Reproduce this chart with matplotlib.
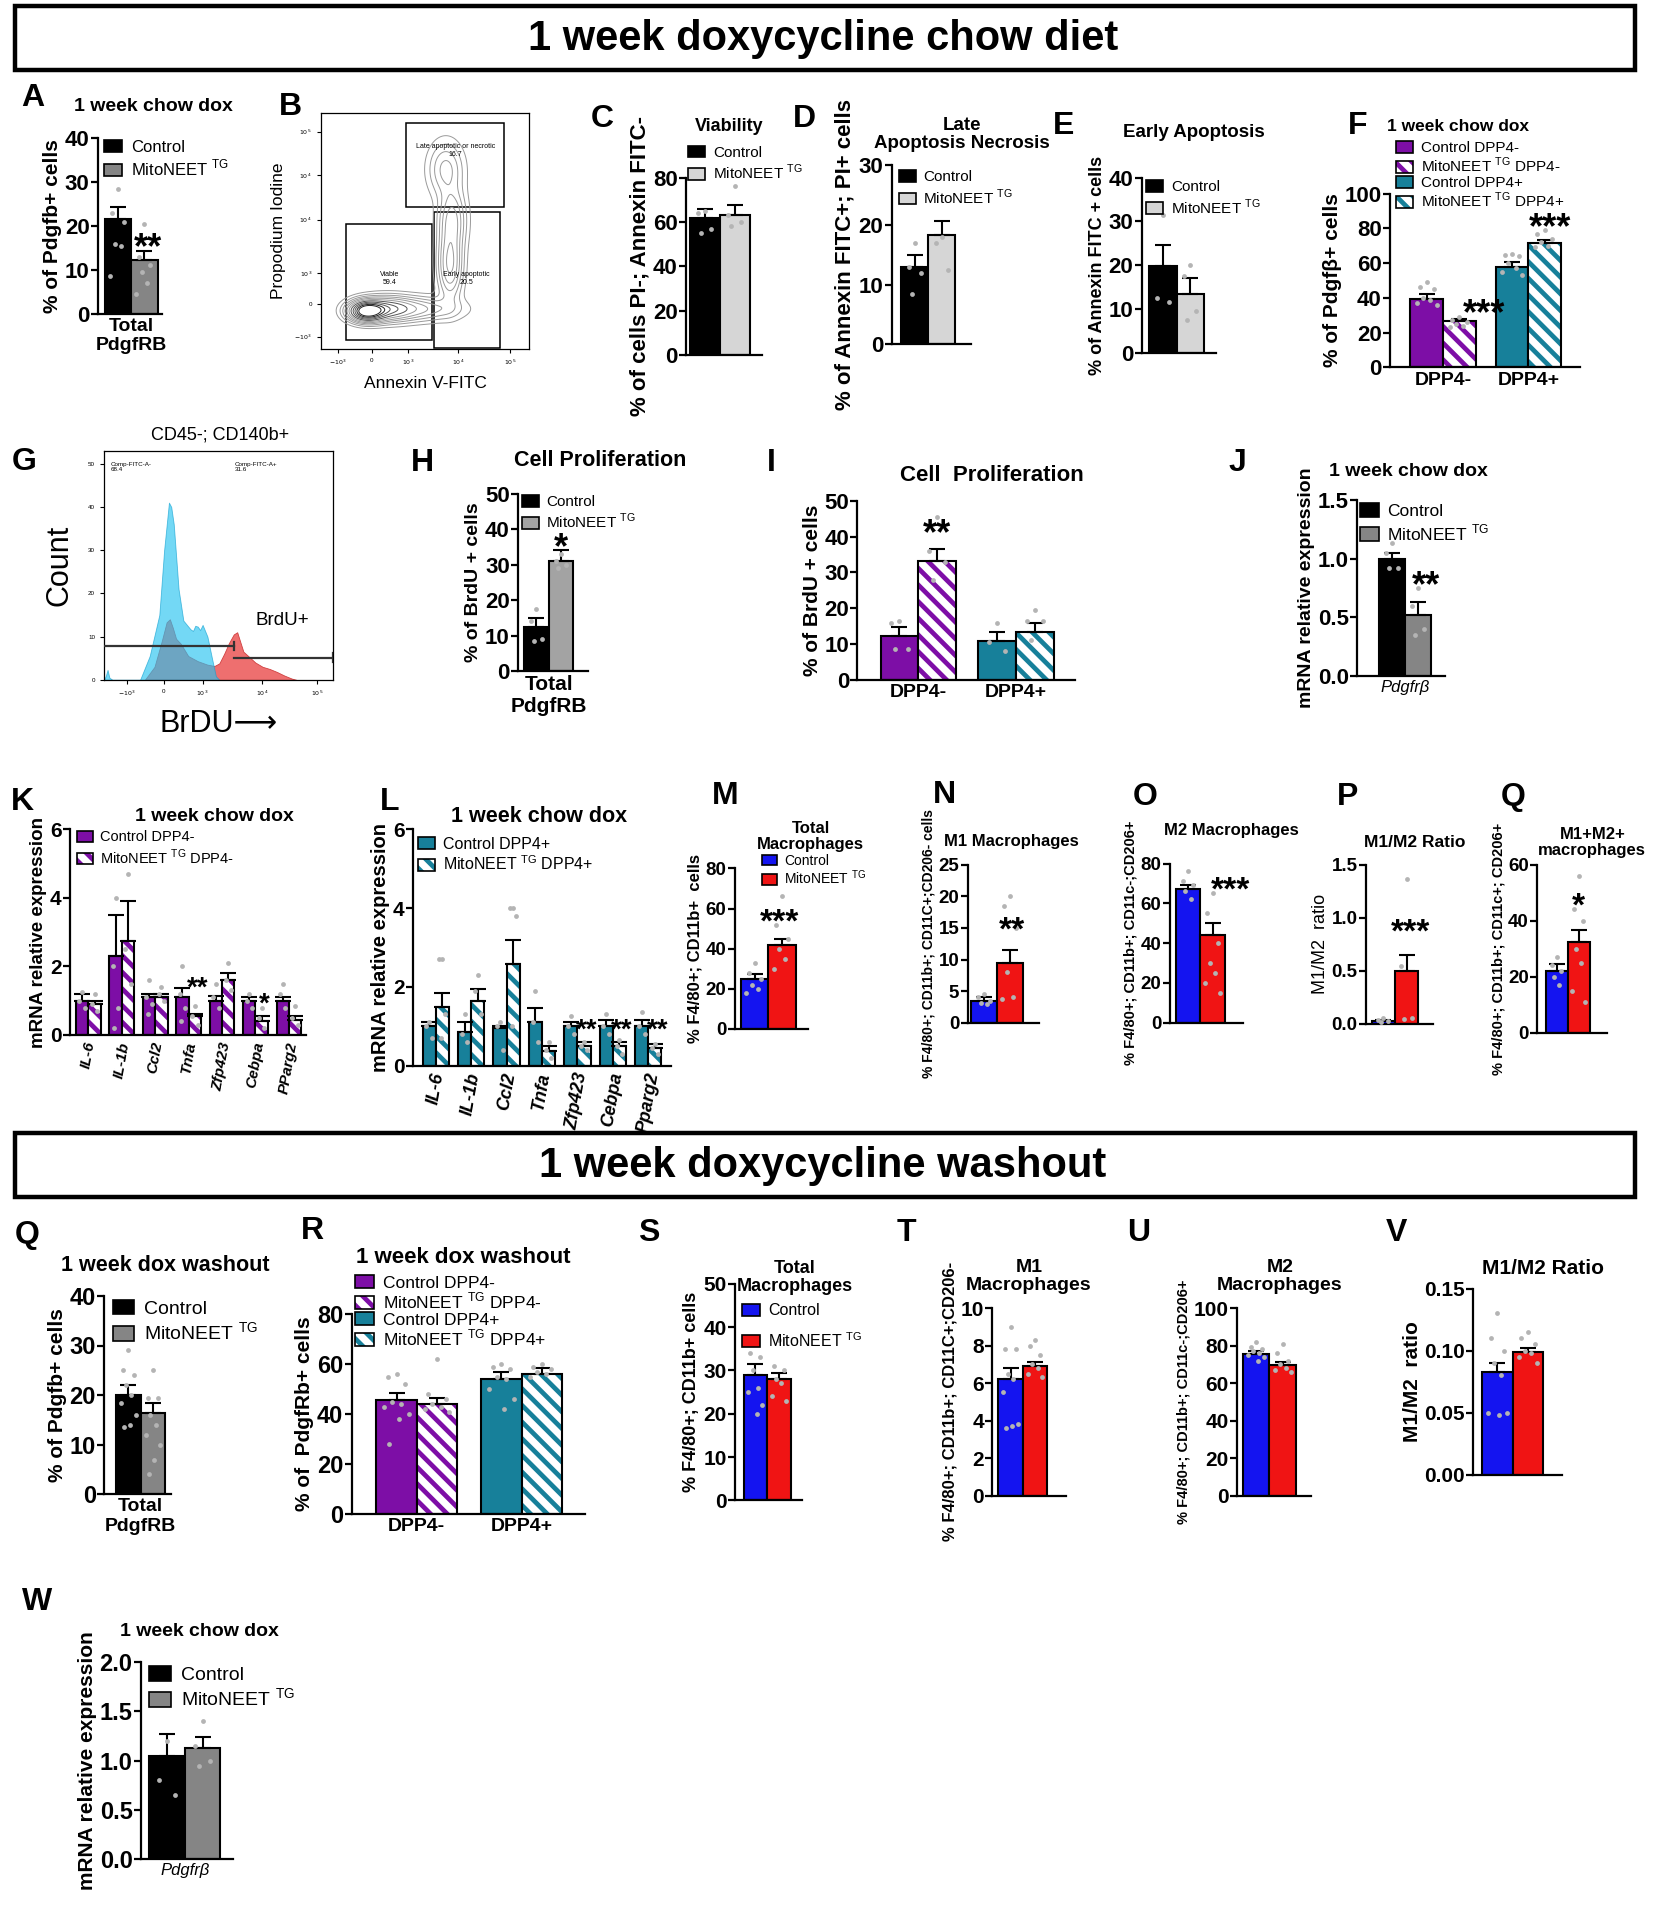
import numpy as np
import matplotlib
matplotlib.use('Agg')
import matplotlib.pyplot as plt
from matplotlib import font_manager
from matplotlib.patches import Patch, Rectangle

installed = {f.name for f in font_manager.fontManager.ttflist}
NARROW = 'Liberation Sans Narrow' if 'Liberation Sans Narrow' in installed else 'Liberation Sans'
print('narrow font:', NARROW)

plt.rcParams['font.family'] = ['Liberation Sans', 'DejaVu Sans']
plt.rcParams['hatch.linewidth'] = 3.4
plt.rcParams['axes.linewidth'] = 1.6

# ---------------- data ----------------
TG = 'MitoNEET $^{\\mathregular{TG}}$'
LEG2 = ['Control', TG]
LEG_DPP4 = ['Control DPP4-', TG + ' DPP4-', 'Control DPP4+', TG + ' DPP4+']
GROUPS_DPP4 = ['DPP4-', 'DPP4+']
HEADERS = ['1 week doxycycline chow diet', '1 week doxycycline washout']

# A  total PdgfRB, 1 week chow dox
a_mean = [21.5, 12.3]
a_sem = [2.8, 1.9]
a_pts = [[28.5, 23, 21, 16, 15.5, 8.5], [20.5, 13, 11, 9.5, 7, 4.5]]

# B  annexin / PI gates
b_gate_x0 = [0.12, 0.542, 0.408]
b_gate_x1 = [0.533, 0.862, 0.878]
b_gate_y0 = [0.038, 0.004, 0.60]
b_gate_y1 = [0.529, 0.58, 0.957]
b_gate_text = ['Viable\n59.4', 'Early apoptotic\n20.5', 'Late apoptotic or necrotic\n16.7']
b_blob_cx = [0.22, 0.31, 0.46, 0.62, 0.63, 0.60]
b_blob_cy = [0.16, 0.17, 0.17, 0.36, 0.55, 0.76]
b_blob_sx = [0.05, 0.08, 0.12, 0.035, 0.04, 0.05]
b_blob_sy = [0.025, 0.03, 0.03, 0.09, 0.08, 0.07]
b_blob_w = [1.0, 0.45, 0.2, 0.3, 0.22, 0.16]
b_xtick_pos = [0.083, 0.245, 0.42, 0.66, 0.91]
b_xtick_lab = ['$-10^3$', '0', '$10^3$', '$10^4$', '$10^5$']
b_ytick_pos = [0.053, 0.19, 0.32, 0.548, 0.735, 0.92]
b_ytick_lab = ['$-10^3$', '0', '$10^3$', '$10^4$', '$10^4$', '$10^5$']

# C viability, D late apoptosis, E early apoptosis
c_mean = [62, 63]
c_sem = [4, 4.5]
c_pts = [[65, 64, 57, 55], [76, 63, 60, 58]]
d_mean = [13, 18.3]
d_sem = [2, 2.4]
d_pts = [[17, 13, 12, 8.5], [18, 17, 12.5]]
e_mean = [19.8, 13.5]
e_sem = [4.9, 3.5]
e_pts = [[31.5, 12.5, 11.5], [20, 17.5, 9.5, 7.5]]

# F  DPP4 split
f_mean = [39.5, 26.5, 58, 71.5]
f_sem = [2.5, 1.5, 2.5, 1.8]
f_pts = [[49, 46, 45, 40, 39, 37, 36], [29, 27, 26, 25, 24, 23],
         [65, 64.5, 64, 60, 57, 55, 53], [79, 77, 74, 72, 70, 69]]

# G  BrdU histogram (x in display fraction, y in counts)
g_cyan_x = [0.0, 0.008, 0.015, 0.023, 0.036, 0.157, 0.199, 0.241, 0.262, 0.283, 0.293, 0.304,
            0.325, 0.346, 0.377, 0.388, 0.398, 0.409, 0.419, 0.43, 0.451, 0.472, 0.488, 0.503]
g_cyan_y = [0, 1, 2.3, 0.5, 0, 0, 5.5, 15, 30, 41, 40, 36,
            21, 13.7, 11.7, 11.3, 12.5, 12.3, 11.5, 12.7, 10, 4.7, 0.8, 0]
g_red_x = [0.178, 0.22, 0.252, 0.273, 0.287, 0.30, 0.314, 0.335, 0.367, 0.409, 0.451, 0.482,
           0.503, 0.524, 0.545, 0.566, 0.581, 0.593, 0.608, 0.629, 0.66, 0.692, 0.723, 0.755,
           0.786, 0.818, 0.839]
g_red_y = [0, 3, 9, 13.3, 14, 12, 9.5, 8.3, 5.5, 4.3, 3.5, 3.2,
           3.8, 6, 8.5, 10.5, 11, 9, 6.5, 5.5, 4, 3, 2.5, 1.8,
           1, 0.3, 0]
g_gate_x = [[0.0, 0.566], [0.566, 1.0]]
g_gate_y = [7.8, 5.1]
g_xtick_pos = [0.10, 0.26, 0.43, 0.69, 0.93]
g_xtick_lab = ['$-10^3$', '0', '$10^3$', '$10^4$', '$10^5$']

# H, I  BrdU+
h_mean = [12.5, 31]
h_sem = [2.5, 3]
h_pts = [[17.5, 14, 9, 8.5], [33, 31, 30, 29]]
i_mean = [12.2, 33.3, 10.8, 13.5]
i_sem = [2.6, 3.4, 2.5, 2.5]
i_pts = [[16.5, 16, 8.5, 8.5], [45.5, 36, 33, 28], [16, 10.5, 8], [19.5, 16.5, 16.5, 11]]

# J  Pdgfrb mRNA
j_mean = [1.0, 0.52]
j_sem = [0.05, 0.11]
j_pts = [[1.13, 1.05, 0.92, 0.92], [0.75, 0.6, 0.4, 0.35]]

# K  DPP4- genes
GENES_K = ['IL-6', 'IL-1b', 'Ccl2', 'Tnfa', 'Zfp423', 'Cebpa', 'PParg2']
k_ctrl_mean = [1.0, 2.3, 1.1, 1.1, 1.0, 1.0, 1.0]
k_ctrl_sem = [0.2, 1.2, 0.1, 0.28, 0.15, 0.1, 0.1]
k_mito_mean = [0.9, 2.75, 1.1, 0.55, 1.6, 0.4, 0.45]
k_mito_sem = [0.1, 1.15, 0.1, 0.05, 0.2, 0.15, 0.1]
k_ctrl_pts = [[1.25, 1.0, 0.8], [4.0, 2.0, 0.8, 0.2], [1.6, 1.1, 0.9, 0.6], [2.0, 1.2, 0.8, 0.4],
              [1.5, 1.1, 0.8], [1.2, 1.0, 0.8], [1.5, 1.2, 0.8]]
k_mito_pts = [[1.2, 0.9, 0.7], [4.7, 2.5, 1.5], [1.4, 1.2, 1.0], [0.85, 0.55, 0.3],
              [2.1, 1.6, 1.3], [0.8, 0.5, 0.2], [0.85, 0.5, 0.3]]
k_stars = {3: ('**', 1.35), 5: ('*', 0.9)}

# L  DPP4+ genes
GENES_L = ['IL-6', 'IL-1b', 'Ccl2', 'Tnfa', 'Zfp423', 'Cebpa', 'Pparg2']
l_ctrl_mean = [1.0, 0.85, 0.95, 1.1, 1.0, 1.0, 1.0]
l_ctrl_sem = [0.1, 0.25, 0.05, 0.35, 0.1, 0.15, 0.15]
l_mito_mean = [1.48, 1.65, 2.58, 0.38, 0.5, 0.5, 0.45]
l_mito_sem = [0.37, 0.3, 0.62, 0.12, 0.1, 0.1, 0.1]
l_ctrl_pts = [[1.1, 1.0, 0.7], [1.3, 0.8, 0.6], [1.1, 1.0, 0.4], [1.9, 1.1, 0.6],
              [1.25, 1.0, 0.8], [1.3, 1.0, 0.8], [1.35, 1.0, 0.8]]
l_mito_pts = [[2.7, 2.7, 1.3, 0.7], [2.3, 1.9, 1.3], [4.0, 4.0, 3.8, 1.0], [0.6, 0.4, 0.2],
              [0.6, 0.5, 0.4], [0.65, 0.5, 0.3], [0.55, 0.45, 0.3]]
l_stars = {4: ('**', 0.9), 5: ('**', 0.9), 6: ('**', 0.9)}

# M-Q  macrophages, 1 week chow dox
m_mean = [25, 42]
m_sem = [2.5, 3]
m_pts = [[33, 28, 25, 22, 20, 18], [66, 52, 45, 40, 35, 30]]
n_mean = [3.5, 9.5]
n_sem = [0.5, 2]
n_pts = [[4.5, 4.0, 3.5, 3.2, 3.0], [20, 18.5, 15, 8, 4, 3.8]]
o_mean = [67, 44]
o_sem = [2, 6]
o_pts = [[76, 71, 69, 66, 62], [65, 55, 40, 30, 25, 20, 15]]
p_mean = [0.03, 0.5]
p_sem = [0.01, 0.15]
p_pts = [[0.06, 0.04, 0.03, 0.02], [1.37, 0.55, 0.06, 0.05]]
q1_mean = [22, 32.5]
q1_sem = [2.5, 4]
q1_pts = [[27, 24, 22, 20, 17], [56, 44, 40, 30, 25, 15, 11]]

# washout
q2_mean = [20, 16.3]
q2_sem = [2, 2.2]
q2_pts = [[29, 25, 24, 22, 20, 18.5, 16, 14, 13.5], [25, 19.5, 19.5, 16, 14, 12, 10, 7, 4]]
r_mean = [45.5, 44, 54, 56]
r_sem = [3, 2.5, 3, 2.5]
r_pts = [[56, 55, 52, 45, 44, 43, 40, 38, 28], [62, 48, 46, 44, 43, 42, 41],
         [60, 59, 58, 55, 54, 50, 46, 42], [60, 59, 58, 57, 56, 55]]
s_mean = [29, 28]
s_sem = [2.5, 1.5]
s_pts = [[37, 34, 33, 30, 26, 25, 22, 20], [37, 31, 30, 28, 27, 24, 23]]
t_mean = [6.2, 6.9]
t_sem = [0.6, 0.25]
t_pts = [[9.0, 7.8, 7.8, 6.5, 6.2, 5.5, 3.8, 3.7, 3.6], [8.3, 8.0, 7.5, 7.0, 6.8, 6.5, 6.3]]
u_mean = [75.5, 69.5]
u_sem = [1.5, 2]
u_pts = [[82, 79, 78, 77, 76, 75, 74, 72], [81, 76, 72, 70, 68, 67, 66]]
v_mean = [0.083, 0.099]
v_sem = [0.007, 0.003]
v_pts = [[0.13, 0.11, 0.10, 0.09, 0.08, 0.05, 0.05, 0.048],
         [0.115, 0.11, 0.105, 0.1, 0.098, 0.095, 0.09]]
w_mean = [1.05, 1.13]
w_sem = [0.22, 0.11]
w_pts = [[1.2, 0.8, 0.65], [1.4, 1.15, 1.0, 0.95]]

# colours
BLACK, GRAY, LGRAY = '#000000', '#858585', '#d6d6d6'
PURPLE, TEAL = '#7d0ea6', '#17809a'
BLUE, RED = '#1414f0', '#f01414'
DOT = '#b4b4b4'
JITTER = np.array([0.0, -0.22, 0.22, -0.11, 0.11, -0.3, 0.3, 0.05, -0.18, 0.18])

# ---------------- layout helpers (reference pixels, 1352 wide) ----------------
W0 = 1352.0
H0 = 1920 * 1352 / 1656

fig = plt.figure(figsize=(16.56, 19.2), dpi=100)


def box(x0, ytop, x1, ybot):
    return [x0 / W0, 1 - ybot / H0, (x1 - x0) / W0, (ybot - ytop) / H0]


def ftext(x, y, s, **kw):
    fig.text(x / W0, 1 - y / H0, s, **kw)


def letter(x, y, s):
    ftext(x, y, s, fontsize=23, fontweight='bold', ha='center', va='center')


def title(x, y, s, fs=13, narrow=False):
    ftext(x, y, s, fontsize=fs, fontweight='bold', ha='center', va='center',
          family=NARROW if narrow else 'Liberation Sans', linespacing=1.05)


def draw_bars(ax, pos, means, sems, pts, colors, hatched, width=1.0):
    for x, m, e, p, c, h in zip(pos, means, sems, pts, colors, hatched):
        if h:
            ax.bar(x, m, width, color='white', edgecolor=c, hatch='\\\\', linewidth=0, zorder=2)
            ax.bar(x, m, width, fill=False, edgecolor='black', linewidth=1.5, zorder=3)
        else:
            ax.bar(x, m, width, color=c, edgecolor='black', linewidth=1.5, zorder=2)
        ax.errorbar(x, m, yerr=[[0], [e]], color='black', capsize=4 * width + 2,
                    elinewidth=1.5, capthick=1.5, zorder=4)
        ax.scatter(x + JITTER[:len(p)] * width, p, s=12, color=DOT, linewidths=0, zorder=5)


def style(ax, xlim, ylim, yticks, fs=15, fmt=None, narrow=False):
    ax.spines[['top', 'right']].set_visible(False)
    ax.set_xlim(*xlim)
    ax.set_ylim(*ylim)
    ax.set_yticks(yticks)
    if fmt:
        ax.set_yticklabels([fmt.format(v) for v in yticks])
    ax.tick_params(axis='y', length=5, width=1.6, labelsize=fs, pad=1)
    ax.tick_params(axis='x', length=0)
    for lab in ax.get_yticklabels():
        lab.set_fontweight('bold')
        lab.set_family(NARROW if narrow else 'Liberation Sans')
    ax.set_xticks([])


def ylab(ax, s, fs=15, pad=2, weight='bold', narrow=False):
    ax.set_ylabel(s, fontsize=fs, fontweight=weight, labelpad=pad,
                  family=NARROW if narrow else 'Liberation Sans')


def legend(ax, labels, colors, hatched, x, y, fs=11.5, spacing=0.2):
    handles = []
    for c, h in zip(colors, hatched):
        if h:
            handles.append((Patch(facecolor='white', edgecolor=c, hatch='\\\\', linewidth=0),
                            Patch(fill=False, edgecolor='black', linewidth=1.2)))
        else:
            handles.append(Patch(facecolor=c, edgecolor='black', linewidth=1.2))
    ax.legend(handles, labels, loc='upper left', bbox_to_anchor=(x / W0, 1 - y / H0),
              bbox_transform=fig.transFigure, frameon=False, fontsize=fs,
              handlelength=1.1, handleheight=0.8, handletextpad=0.5,
              labelspacing=spacing, borderpad=0, borderaxespad=0)


def stars(ax, x, y, s, fs=24):
    ax.text(x, y, s, fontsize=fs, fontweight='bold', ha='center', va='center', zorder=6)


def xcat(ax, pos, labels, fs=14, style_='normal', weight='bold', rot=0, pad=3):
    ax.set_xticks(pos)
    ax.set_xticklabels(labels, fontsize=fs, fontstyle=style_, fontweight=weight, rotation=rot)
    ax.tick_params(axis='x', length=0, pad=pad)


POS2 = [0, 1]
POS4 = [0, 1, 2.6, 3.6]
XL4 = (-1.114, 4.68)

# ---------------- headers ----------------
for (yt, yb), text in zip([(5, 57), (925, 977)], HEADERS):
    fig.add_artist(Rectangle((12 / W0, 1 - yb / H0), (1335 - 12) / W0, (yb - yt) / H0,
                             transform=fig.transFigure, fill=False, lw=3.2, ec='black'))
    ftext(672, (yt + yb) / 2 + 1, text, fontsize=31 if NARROW != 'Liberation Sans' else 30,
          fontweight='bold', family=NARROW, ha='center', va='center')

# ---------------- A ----------------
ax = fig.add_axes(box(80, 113, 132, 256))
draw_bars(ax, POS2, a_mean, a_sem, a_pts, [BLACK, GRAY], [False, False])
style(ax, (-0.75, 1.65), (0, 40), [0, 10, 20, 30, 40], fs=16)
ylab(ax, '% of Pdgfb+ cells', fs=15)
xcat(ax, [0.5], ['Total\nPdgfRB'], fs=14)
legend(ax, LEG2, [BLACK, GRAY], [False, False], 85, 114, fs=12)
stars(ax, 1.15, 14.8, '**', fs=26)
letter(27, 80, 'A')
title(125, 87, '1 week chow dox', fs=14)

# ---------------- B ----------------
ax = fig.add_axes(box(262, 92, 432, 285))
gx, gy = np.meshgrid(np.linspace(0, 1, 300), np.linspace(0, 1, 300))
dens = np.zeros_like(gx)
for cx, cy, sx, sy, w in zip(b_blob_cx, b_blob_cy, b_blob_sx, b_blob_sy, b_blob_w):
    dens += w * np.exp(-((gx - cx) ** 2 / (2 * sx ** 2) + (gy - cy) ** 2 / (2 * sy ** 2)))
ax.contour(gx, gy, dens, levels=[0.02, 0.05, 0.09, 0.14, 0.2, 0.28, 0.38, 0.5, 0.62, 0.75, 0.88],
           colors=['#9a9a9a'] * 6 + ['#555555'] * 3 + ['#222222'] * 2, linewidths=0.7)
for x0, x1, y0, y1 in zip(b_gate_x0, b_gate_x1, b_gate_y0, b_gate_y1):
    ax.add_patch(Rectangle((x0, y0), x1 - x0, y1 - y0, fill=False, lw=1.1, ec='black'))
ax.text(0.33, 0.30, b_gate_text[0], fontsize=5, ha='center', va='center')
ax.text(0.70, 0.30, b_gate_text[1], fontsize=5, ha='center', va='center')
ax.text(0.645, 0.84, b_gate_text[2], fontsize=5, ha='center', va='center')
ax.set_xlim(0, 1)
ax.set_ylim(0, 1)
ax.set_xticks(b_xtick_pos)
ax.set_xticklabels(b_xtick_lab, fontsize=4.5)
ax.set_yticks(b_ytick_pos)
ax.set_yticklabels(b_ytick_lab, fontsize=4.5)
ax.tick_params(length=3, width=0.8)
for sp in ax.spines.values():
    sp.set_linewidth(0.9)
ax.set_xlabel('Annexin V-FITC', fontsize=12.5, labelpad=6)
ax.set_ylabel('Propodium Iodine', fontsize=12.5, labelpad=6)
letter(237, 87, 'B')

# ---------------- C ----------------
ax = fig.add_axes(box(560, 145, 622, 290))
draw_bars(ax, POS2, c_mean, c_sem, c_pts, [BLACK, LGRAY], [False, False])
style(ax, (-0.62, 1.91), (0, 80), [0, 20, 40, 60, 80], fs=16)
ylab(ax, '% of cells PI-; Annexin FITC-', fs=16)
legend(ax, LEG2, [BLACK, LGRAY], [False, False], 562, 119, fs=11)
letter(492, 97, 'C')
title(595, 103, 'Viability', fs=13, narrow=True)

# ---------------- D ----------------
ax = fig.add_axes(box(728, 135, 793, 281))
draw_bars(ax, POS2, d_mean, d_sem, d_pts, [BLACK, LGRAY], [False, False])
style(ax, (-0.86, 2.09), (0, 30), [0, 10, 20, 30], fs=16)
ylab(ax, '% of Annexin FITC+; PI+ cells', fs=16)
legend(ax, LEG2, [BLACK, LGRAY], [False, False], 734, 139, fs=11)
letter(657, 97, 'D')
title(785, 110, 'Late\nApoptosis Necrosis', fs=13.5, narrow=True)

# ---------------- E ----------------
ax = fig.add_axes(box(932, 145, 993, 288))
draw_bars(ax, POS2, e_mean, e_sem, e_pts, [BLACK, LGRAY], [False, False])
style(ax, (-0.77, 1.94), (0, 40), [0, 10, 20, 30, 40], fs=16)
ylab(ax, '% of Annexin FITC + cells', fs=13)
legend(ax, LEG2, [BLACK, LGRAY], [False, False], 936, 147, fs=11)
letter(868, 103, 'E')
title(975, 108, 'Early Apoptosis', fs=13.5, narrow=True)

# ---------------- F ----------------
F_COL = [PURPLE, PURPLE, TEAL, TEAL]
F_HAT = [False, True, False, True]
ax = fig.add_axes(box(1135, 158, 1290, 300))
draw_bars(ax, POS4, f_mean, f_sem, f_pts, F_COL, F_HAT)
style(ax, XL4, (0, 100), [0, 20, 40, 60, 80, 100], fs=16)
ylab(ax, '% of Pdgf\u03b2+ cells', fs=15)
xcat(ax, [0.5, 3.1], GROUPS_DPP4, fs=14)
legend(ax, LEG_DPP4, F_COL, F_HAT, 1140, 115, fs=11, spacing=0.05)
stars(ax, 1.75, 30.5, '***', fs=26)
stars(ax, 3.75, 80, '***', fs=26)
letter(1108, 103, 'F')
title(1190, 103, '1 week chow dox', fs=12.5)

# ---------------- G ----------------
ax = fig.add_axes(box(85, 368, 272, 555))
ax.fill_between(g_red_x, g_red_y, color='#ee6f6f', lw=0.6, ec='#d04040', zorder=1)
ax.fill_between(g_cyan_x, g_cyan_y, color='#28c3f0', alpha=0.65, lw=0.6, ec='#10a0d0', zorder=2)
for (x0, x1), y in zip(g_gate_x, g_gate_y):
    ax.plot([x0, x1], [y, y], color='#333333', lw=1.6, zorder=3)
    ax.plot([x1, x1], [y - 1.0, y + 1.0], color='#333333', lw=1.6, zorder=3)
ax.text(0.03, 50.5, 'Comp-FITC-A-\n68.4', fontsize=4.5, va='top')
ax.text(0.57, 50.5, 'Comp-FITC-A+\n31.6', fontsize=4.5, va='top')
ax.text(0.66, 13.7, 'BrdU+', fontsize=13.5, va='center')
ax.set_xlim(0, 1)
ax.set_ylim(0, 53)
ax.set_yticks([0, 10, 20, 30, 40, 50])
ax.set_yticklabels(['0', '10', '20', '30', '40', '50'], fontsize=4.5)
ax.set_xticks(g_xtick_pos)
ax.set_xticklabels(g_xtick_lab, fontsize=4.5)
ax.tick_params(length=3, width=0.8)
for sp in ax.spines.values():
    sp.set_linewidth(0.9)
ax.set_ylabel('Count', fontsize=22, labelpad=10)
ax.set_xlabel('BrDU\u27f6', fontsize=22, labelpad=8, family=['Liberation Sans', 'DejaVu Sans'])
letter(20, 377, 'G')
ftext(180, 355, 'CD45-; CD140b+', fontsize=13, ha='center', va='center')

# ---------------- H ----------------
ax = fig.add_axes(box(423, 403, 480, 548))
draw_bars(ax, POS2, h_mean, h_sem, h_pts, [BLACK, '#a3a3a3'], [False, False])
style(ax, (-0.75, 2.1), (0, 50), [0, 10, 20, 30, 40, 50], fs=16)
ylab(ax, '% of BrdU + cells', fs=14)
xcat(ax, [0.5], ['Total\nPdgfRB'], fs=15)
legend(ax, LEG2, [BLACK, '#a3a3a3'], [False, False], 426, 404, fs=11)
stars(ax, 1.0, 34.5, '*', fs=26)
letter(345, 378, 'H')
title(490, 376, 'Cell Proliferation', fs=15.5, narrow=True)

# ---------------- I ----------------
ax = fig.add_axes(box(700, 409, 878, 555))
draw_bars(ax, POS4, i_mean, i_sem, i_pts, F_COL, F_HAT)
style(ax, XL4, (0, 50), [0, 10, 20, 30, 40, 50], fs=16)
ylab(ax, '% of BrdU + cells', fs=15)
xcat(ax, [0.5, 3.1], GROUPS_DPP4, fs=14)
stars(ax, 1.0, 40.5, '**', fs=26)
letter(630, 378, 'I')
title(810, 388, 'Cell  Proliferation', fs=16, narrow=True)

# ---------------- J ----------------
ax = fig.add_axes(box(1108, 408, 1180, 552))
draw_bars(ax, POS2, j_mean, j_sem, j_pts, [BLACK, GRAY], [False, False])
style(ax, (-1.35, 2.05), (0, 1.5), [0, 0.5, 1.0, 1.5], fs=16, fmt='{:.1f}')
ylab(ax, 'mRNA relative expression', fs=14)
xcat(ax, [0.5], ['Pdgfr\u03b2'], fs=12, style_='italic', weight='normal')
legend(ax, LEG2, [BLACK, GRAY], [False, False], 1110, 411, fs=12.5)
stars(ax, 1.3, 0.76, '**', fs=26)
letter(1010, 378, 'J')
title(1150, 385, '1 week chow dox', fs=14, narrow=True)

# ---------------- K / L ----------------
for (rect, xl, genes, cm, cs, mm, ms, cp, mp, col, st, lbl_fs, leg_xy, leg_lab, tit, lx) in [
        ((57, 677, 250, 845), (-1.0, 18.1), GENES_K, k_ctrl_mean, k_ctrl_sem, k_mito_mean,
         k_mito_sem, k_ctrl_pts, k_mito_pts, PURPLE, k_stars, 11, (63, 678),
         LEG_DPP4[:2], (175, 667), (18, 655)),
        ((337, 677, 548, 870), (-1.25, 18.45), GENES_L, l_ctrl_mean, l_ctrl_sem, l_mito_mean,
         l_mito_sem, l_ctrl_pts, l_mito_pts, TEAL, l_stars, 13, (341, 683),
         LEG_DPP4[2:], (440, 667), (318, 655))]:
    ax = fig.add_axes(box(*rect))
    n = len(genes)
    cx = [i * 2.7 for i in range(n)]
    mx = [i * 2.7 + 1 for i in range(n)]
    draw_bars(ax, cx, cm, cs, cp, [col] * n, [False] * n)
    draw_bars(ax, mx, mm, ms, mp, [col] * n, [True] * n)
    style(ax, xl, (0, 6), [0, 2, 4, 6], fs=15)
    ylab(ax, 'mRNA relative expression', fs=13.5 if col == PURPLE else 14.5)
    xcat(ax, [i * 2.7 + 0.5 for i in range(n)], genes, fs=lbl_fs, style_='italic', rot=80, pad=4)
    legend(ax, leg_lab, [col, col], [False, True], leg_xy[0], leg_xy[1], fs=10.5 if col == PURPLE else 11.5)
    for i, (s, y) in st.items():
        stars(ax, mx[i] + 0.2, y, s, fs=20)
    title(tit[0], tit[1], '1 week chow dox', fs=14 if col == PURPLE else 15.5, narrow=True)
    letter(lx[0], lx[1], 'K' if col == PURPLE else 'L')

# ---------------- M-Q ----------------
BR = [BLUE, RED]
NOH = [False, False]
small = [
    ('M', (600, 709, 660, 840), (-0.72, 1.95), m_mean, m_sem, m_pts, (0, 80), [0, 20, 40, 60, 80], None,
     '% F4/80+; CD11b+  cells', 12, (592, 650), 'Total\nMacrophages', (662, 683), ('***', 0.9, 53)),
    ('N', (790, 706, 848, 835), (-0.64, 2.12), n_mean, n_sem, n_pts, (0, 25), [0, 5, 10, 15, 20, 25], None,
     '% F4/80+; CD11b+; CD11C+;CD206- cells', 10, (771, 649), 'M1 Macrophages', (826, 687), ('**', 1.1, 14.5)),
    ('O', (955, 705, 1015, 835), (-0.75, 2.25), o_mean, o_sem, o_pts, (0, 80), [0, 20, 40, 60, 80], None,
     '% F4/80+; CD11b+; CD11c-;CD206+', 10.5, (935, 651), 'M2 Macrophages', (1005, 678), ('***', 1.75, 66)),
    ('P', (1115, 706, 1170, 836), (-0.76, 2.14), p_mean, p_sem, p_pts, (0, 1.5), [0, 0.5, 1.0, 1.5], '{:.1f}',
     'M1/M2  ratio', 13, (1100, 651), 'M1/M2 Ratio', (1155, 688), ('***', 1.15, 0.86)),
    ('Q', (1255, 706, 1312, 843), (-0.88, 2.29), q1_mean, q1_sem, q1_pts, (0, 60), [0, 20, 40, 60], None,
     '% F4/80+; CD11b+; CD11c+; CD206+', 10.5, (1235, 651), 'M1+M2+\nmacrophages', (1300, 688), ('*', 1.0, 45)),
    ('S', (600, 1048, 655, 1225), (-0.87, 2.0), s_mean, s_sem, s_pts, (0, 50), [0, 10, 20, 30, 40, 50], None,
     '% F4/80+; CD11b+ cells', 13, (530, 1007), 'Total\nMacrophages', (649, 1043), None),
    ('T', (810, 1068, 870, 1221), (-0.75, 2.25), t_mean, t_sem, t_pts, (0, 10), [0, 2, 4, 6, 8, 10], None,
     '% F4/80+; CD11b+; CD11C+;CD206-', 12, (740, 1007), 'M1\nMacrophages', (840, 1042), None),
    ('U', (1010, 1068, 1070, 1221), (-0.73, 2.06), u_mean, u_sem, u_pts, (0, 100), [0, 20, 40, 60, 80, 100], None,
     '% F4/80+; CD11b+; CD11c-;CD206+', 10.5, (930, 1007), 'M2\nMacrophages', (1045, 1042), None),
    ('V', (1203, 1052, 1275, 1204), (-0.78, 2.1), v_mean, v_sem, v_pts, (0, 0.15), [0, 0.05, 0.10, 0.15], '{:.2f}',
     'M1/M2  ratio', 15, (1140, 1007), 'M1/M2 Ratio', (1260, 1036), None),
]
for (let, rect, xl, mean, sem, pts, yl, yt, fmt, ylb, ylfs, lxy, tit, txy, st) in small:
    ax = fig.add_axes(box(*rect))
    draw_bars(ax, POS2, mean, sem, pts, BR, NOH)
    washout = rect[1] > 900
    style(ax, xl, yl, yt, fs=15 if washout else 13.5, fmt=fmt, narrow=True)
    ylab(ax, ylb, fs=ylfs, weight='bold' if (let != 'P') else 'normal')
    if st:
        stars(ax, st[1], st[2], st[0], fs=24)
    letter(lxy[0], lxy[1], let)
    if washout:
        tfs = {'V': 15, 'S': 13}.get(let, 14)
    else:
        tfs = 12.5 if let == 'P' else 12
    title(txy[0], txy[1], tit, fs=tfs, narrow=True)
    if let == 'M':
        legend(ax, LEG2, BR, NOH, 622, 697, fs=10, spacing=0.05)
    if let == 'S':
        legend(ax, LEG2, BR, NOH, 606, 1064, fs=11.5, spacing=0.8)

# ---------------- Q (washout) ----------------
ax = fig.add_axes(box(85, 1058, 140, 1220))
draw_bars(ax, POS2, q2_mean, q2_sem, q2_pts, [BLACK, GRAY], NOH)
style(ax, (-0.99, 1.75), (0, 40), [0, 10, 20, 30, 40], fs=17)
ylab(ax, '% of Pdgfb+ cells', fs=15)
xcat(ax, [0.5], ['Total\nPdgfRB'], fs=14)
legend(ax, LEG2, [BLACK, GRAY], NOH, 92, 1061, fs=14)
letter(22, 1008, 'Q')
title(135, 1033, '1 week dox washout', fs=15.5, narrow=True)

# ---------------- R ----------------
ax = fig.add_axes(box(287, 1073, 478, 1236))
draw_bars(ax, POS4, r_mean, r_sem, r_pts, F_COL, F_HAT)
style(ax, XL4, (0, 80), [0, 20, 40, 60, 80], fs=17)
ylab(ax, '% of  PdgfRb+ cells', fs=15)
xcat(ax, [0.5, 3.1], GROUPS_DPP4, fs=14)
legend(ax, LEG_DPP4, F_COL, F_HAT, 290, 1041, fs=12.5, spacing=0.02)
letter(255, 1005, 'R')
title(378, 1027, '1 week dox washout', fs=16, narrow=True)

# ---------------- W ----------------
ax = fig.add_axes(box(115, 1357, 190, 1518))
draw_bars(ax, POS2, w_mean, w_sem, w_pts, [BLACK, GRAY], NOH)
style(ax, (-0.74, 1.85), (0, 2.0), [0, 0.5, 1.0, 1.5, 2.0], fs=17, fmt='{:.1f}')
ylab(ax, 'mRNA relative expression', fs=15)
xcat(ax, [0.5], ['Pdgfr\u03b2'], fs=12, style_='italic', weight='normal')
legend(ax, LEG2, [BLACK, GRAY], NOH, 122, 1360, fs=14)
letter(30, 1308, 'W')
title(163, 1332, '1 week chow dox', fs=14)

fig.savefig('out.png', dpi=100)
